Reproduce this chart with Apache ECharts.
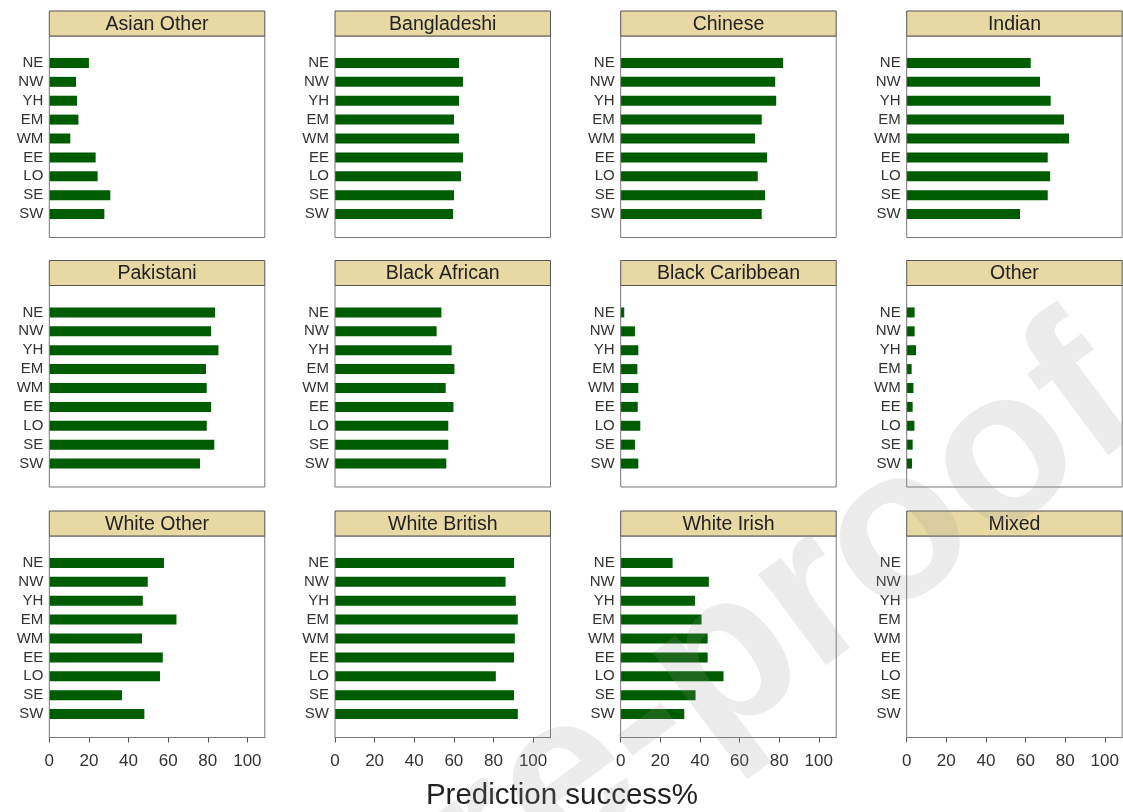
<!DOCTYPE html>
<html>
<head>
<meta charset="utf-8">
<script src="https://cdn.jsdelivr.net/npm/echarts@6/dist/echarts.min.js"></script>
<style>html,body{margin:0;padding:0;background:#fff;}#c{width:1123px;height:812px;}</style>
</head>
<body>
<div id="c"></div>
<script>
// ---- data ----
const regions = ['NE','NW','YH','EM','WM','EE','LO','SE','SW'];
const panelNames = ['Asian Other','Bangladeshi','Chinese','Indian','Pakistani','Black African','Black Caribbean','Other','White Other','White British','White Irish','Mixed'];
const asianOther     = [20, 13.5, 14, 14.7, 10.6, 23.4, 24.4, 30.8, 27.8];
const bangladeshi    = [62.6, 64.6, 62.6, 60.1, 62.6, 64.6, 63.6, 60.1, 59.6];
const chinese        = [82, 78, 78.5, 71.2, 67.8, 73.9, 69.2, 72.9, 71.2];
const indian         = [62.6, 67.3, 72.7, 79.4, 82, 71.2, 72.4, 71.2, 57.2];
const pakistani      = [83.7, 81.7, 85.4, 79.1, 79.5, 81.7, 79.5, 83.3, 76.1];
const blackAfrican   = [53.7, 51.3, 58.9, 60.3, 55.9, 59.8, 57.2, 57.2, 56.2];
const blackCaribbean = [1.8, 7.2, 8.9, 8.4, 8.9, 8.6, 9.9, 7.2, 8.9];
const other          = [4.0, 4.0, 4.7, 2.5, 3.4, 3.0, 3.9, 3.0, 2.7];
const whiteOther     = [57.9, 49.7, 47.2, 64.2, 46.8, 57.3, 55.9, 36.7, 48.0];
const whiteBritish   = [90.4, 86.1, 91.3, 92.3, 90.8, 90.4, 81.2, 90.4, 92.3];
const whiteIrish     = [26.2, 44.5, 37.5, 40.8, 43.9, 43.9, 51.9, 37.8, 32.1];
const mixed          = [null, null, null, null, null, null, null, null, null];
const xTicks = [0, 20, 40, 60, 80, 100];
const xTitle = 'Prediction success%';
const watermark = 'Journal Pre-proof';

const panelValues = [asianOther, bangladeshi, chinese, indian, pakistani, blackAfrican,
  blackCaribbean, other, whiteOther, whiteBritish, whiteIrish, mixed];

// ---- layout ----
const colLeft = [49.3, 335, 620.7, 906.7];
const boxW = 215.5;
const stripTop = [11, 260.5, 511];
const stripH = 25;
const boxH = 201.5;
const bandOffset = 42.5;   // from strip top to first category band
const bandH = 170;
const xMax = 108.8;
const FONT = '"Liberation Sans", Arial, sans-serif';

const grids = [], xAxes = [], yAxes = [], series = [], graphics = [];
panelNames.forEach((name, i) => {
  const row = Math.floor(i / 4), col = i % 4;
  const left = colLeft[col], top = stripTop[row];
  const bottomRow = row === 2;
  grids.push({ left: left, top: top + bandOffset, width: boxW, height: bandH });
  xAxes.push({
    type: 'value', gridIndex: i, min: 0, max: xMax, interval: 20,
    offset: boxH + stripH - bandOffset - bandH,
    splitLine: { show: false },
    axisLine: { show: bottomRow, lineStyle: { color: '#555', width: 1 } },
    axisTick: { show: bottomRow, inside: false, length: 5, customValues: xTicks, lineStyle: { color: '#555' } },
    axisLabel: { show: bottomRow, customValues: xTicks, fontSize: 17, color: '#333', margin: 15, fontFamily: FONT }
  });
  yAxes.push({
    type: 'category', gridIndex: i, data: regions, inverse: true,
    axisLine: { show: false }, axisTick: { show: false }, splitLine: { show: false },
    axisLabel: { fontSize: 15, color: '#333', margin: 6, fontFamily: FONT, interval: 0 }
  });
  series.push({
    type: 'bar', name: name, xAxisIndex: i, yAxisIndex: i, data: panelValues[i],
    barWidth: 10, itemStyle: { color: '#005c00' }, silent: true
  });
  graphics.push({
    type: 'rect', shape: { x: left, y: top + stripH, width: boxW, height: boxH },
    style: { fill: 'none', stroke: '#777', lineWidth: 1 }, z: 5, silent: true
  });
  graphics.push({
    type: 'rect', shape: { x: left, y: top, width: boxW, height: stripH },
    style: { fill: '#e8d8a4', stroke: '#555', lineWidth: 1 }, z: 5, silent: true
  });
  graphics.push({
    type: 'text', x: left + boxW / 2, y: top + stripH / 2 + 1,
    style: { text: name, fill: '#222', font: '19.5px ' + FONT, textAlign: 'center', textVerticalAlign: 'middle' },
    z: 6, silent: true
  });
});
graphics.push({
  type: 'text', x: 562, y: 796,
  style: { text: xTitle, fill: '#222', font: '29.5px ' + FONT, textAlign: 'center', textVerticalAlign: 'middle' },
  z: 6, silent: true
});
graphics.push({
  type: 'text', x: 1114, y: 377, rotation: 0.64,
  style: { text: watermark, fill: 'rgba(150,150,150,0.18)', font: 'bold 215px ' + FONT, textAlign: 'right', textVerticalAlign: 'middle' },
  z: 100, silent: true
});

const chart = echarts.init(document.getElementById('c'), null, { renderer: 'canvas' });
chart.setOption({
  animation: false,
  backgroundColor: '#fff',
  grid: grids, xAxis: xAxes, yAxis: yAxes, series: series,
  graphic: { elements: graphics }
});
</script>
</body>
</html>
